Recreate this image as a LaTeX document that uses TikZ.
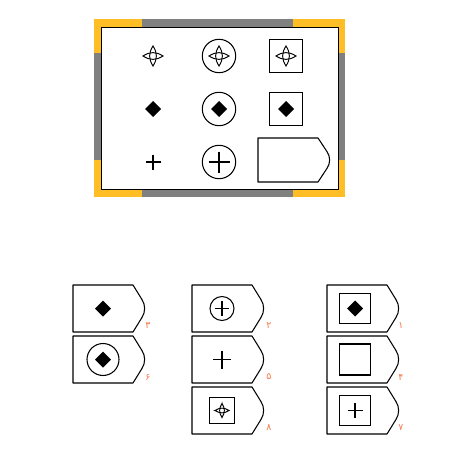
\documentclass[tikz,border=0pt]{standalone}
\usepackage{fontspec}
\newfontfamily\persianfont[Script=Arabic]{DejaVu Sans}
\usetikzlibrary{positioning}
\definecolor{framegray}{HTML}{808080}
\definecolor{frameyellow}{HTML}{FFBD26}
\definecolor{numorange}{HTML}{F47A4A}

% tag outline: left, top, height
\newcommand{\tagshape}[3]{%
  \draw[tagline] (#1,#2) -- ({#1+60},#2) -- ({#1+69},{#2+0.31*#3})
    .. controls ({#1+72.5},{#2+0.42*#3}) and ({#1+72.5},{#2+0.58*#3}) .. ({#1+69},{#2+0.69*#3})
    -- ({#1+60},{#2+#3}) -- (#1,{#2+#3}) -- cycle;}

\begin{document}
\begin{tikzpicture}[x=0.03cm, y=-0.03cm,
  symline/.style={line width=0.9pt},
  tagline/.style={line width=0.9pt, line join=round},
  numlabel/.style={font=\persianfont\fontsize{8}{8}\selectfont, text=numorange, inner sep=0pt},
  starsym/.pic={
    \draw[line width=0.8pt] (0,-10) .. controls (4.5,-3) and (4.5,3) .. (0,10)
      .. controls (-4.5,3) and (-4.5,-3) .. cycle;
    \draw[line width=0.8pt] (-10,0) .. controls (-3,4.5) and (3,4.5) .. (10,0)
      .. controls (3,-4.5) and (-3,-4.5) .. cycle;},
  diamsym/.pic={\fill[black] (-8,0) -- (0,-8) -- (8,0) -- (0,8) -- cycle;},
  plussym/.pic={\draw[line width=1pt] (-7.5,0) -- (7.5,0) (0,-7.5) -- (0,7.5);},
]
  \useasboundingbox (0,0) rectangle (453,453);

  %% Frame
  \fill[framegray] (94,19) rectangle (345,197);
  \fill[frameyellow] (94,19) rectangle (142,53);
  \fill[frameyellow] (293,19) rectangle (345,53);
  \fill[frameyellow] (94,160) rectangle (142,197);
  \fill[frameyellow] (293,160) rectangle (345,197);
  \draw[fill=white, line width=0.6pt] (101.5,27) rectangle (338,189);

  %% Top grid
  \coordinate (g11) at (153,56);  \coordinate (g12) at (219,56);  \coordinate (g13) at (286,56);
  \coordinate (g21) at (153,109); \coordinate (g22) at (219,109); \coordinate (g23) at (286,109);
  \coordinate (g31) at (153,162); \coordinate (g32) at (219,162);

  \pic at (g11) {starsym};
  \pic at (g12) {starsym};
  \draw[symline] (g12) circle[radius=16.7];
  \pic at (g13) {starsym};
  \draw[symline] (g13) ++(-16.5,-16.5) rectangle ++(33,33);

  \pic at (g21) {diamsym};
  \pic at (g22) {diamsym};
  \draw[symline] (g22) circle[radius=16.7];
  \pic at (g23) {diamsym};
  \draw[symline] (g23) ++(-16.5,-16.5) rectangle ++(33,33);

  \pic at (g31) {plussym};
  \pic[scale=1.4] at (g32) {plussym};
  \draw[symline] (g32) circle[radius=16.7];
  \tagshape{258}{138}{44}

  %% Bottom tags
  \foreach \tx/\ty in {73/285, 73/336, 192/285, 192/336, 192/387, 327/285, 327/336, 327/387}
    \tagshape{\tx}{\ty}{47};

  % left column
  \coordinate (a1) at (103,308.5); \coordinate (a2) at (103,359.5);
  \pic at (a1) {diamsym};
  \pic at (a2) {diamsym};
  \draw[symline] (a2) circle[radius=16];
  \node[numlabel] (n3) at (148,326) {۳};
  \node[numlabel] (n6) at (148,377) {۶};

  % middle column
  \coordinate (b1) at (222,308.5); \coordinate (b2) at (222,359.5); \coordinate (b3) at (222,410.5);
  \pic[scale=0.95] at (b1) {plussym};
  \draw[symline] (b1) circle[radius=12];
  \pic[scale=1.2] at (b2) {plussym};
  \pic[scale=0.7] at (b3) {starsym};
  \draw[symline] (b3) ++(-12.5,-13) rectangle ++(25,26);
  \node[numlabel] (n2) at (269,326) {۲};
  \node[numlabel] (n5) at (269,377) {۵};
  \node[numlabel] (n8) at (269,428) {۸};

  % right column
  \coordinate (c1) at (355,308.5); \coordinate (c2) at (355,359.5); \coordinate (c3) at (355,410.5);
  \pic at (c1) {diamsym};
  \draw[symline] (c1) ++(-15.3,-15.3) rectangle ++(30.6,30.6);
  \draw[line width=1.3pt] (c2) ++(-15.3,-15.3) rectangle ++(30.6,30.6);
  \pic at (c3) {plussym};
  \draw[symline] (c3) ++(-15.3,-15.3) rectangle ++(30.6,30.6);
  \node[numlabel] (n1) at (401,326) {۱};
  \node[numlabel] (n4) at (401,377) {۴};
  \node[numlabel] (n7) at (401,428) {۷};
\end{tikzpicture}
\end{document}
